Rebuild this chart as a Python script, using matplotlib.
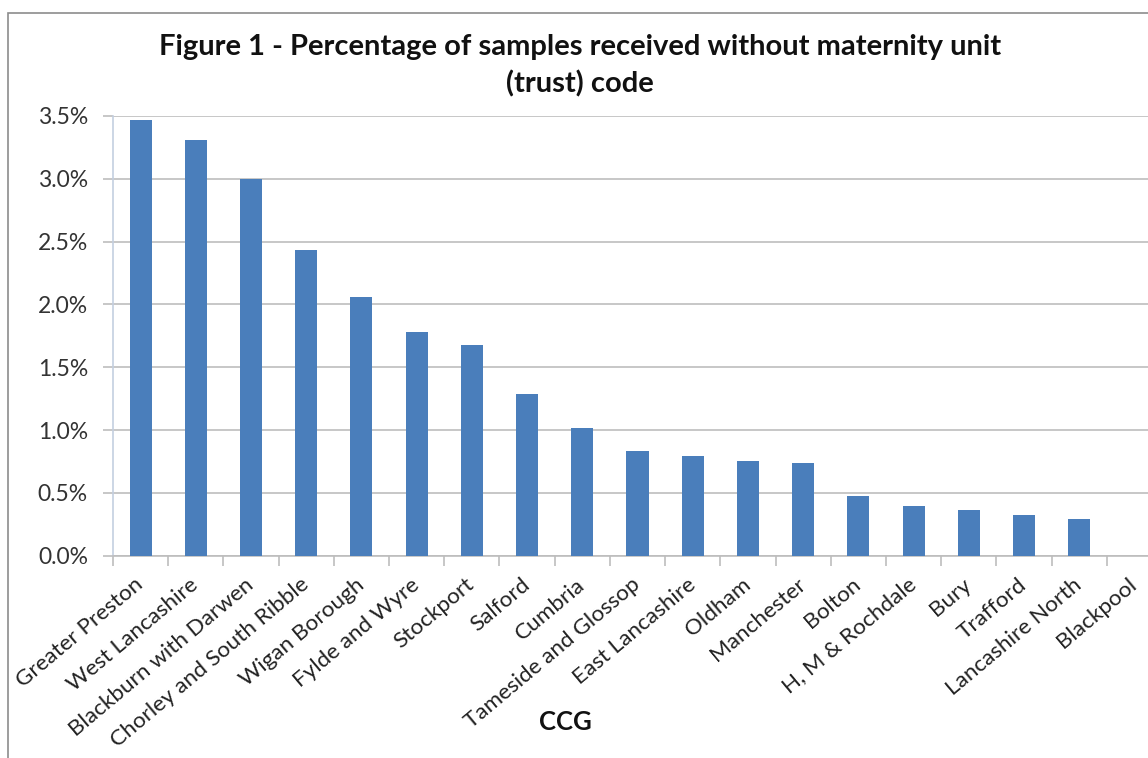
import numpy as np
import matplotlib.pyplot as plt
from matplotlib.patches import Rectangle
from matplotlib.ticker import FuncFormatter, FixedLocator, NullFormatter

ccgs = ['Greater Preston', 'West Lancashire', 'Blackburn with Darwen',
        'Chorley and South Ribble', 'Wigan Borough', 'Fylde and Wyre',
        'Stockport', 'Salford', 'Cumbria', 'Tameside and Glossop',
        'East Lancashire', 'Oldham', 'Manchester', 'Bolton',
        'H, M & Rochdale', 'Bury', 'Trafford', 'Lancashire North', 'Blackpool']
pct_no_code = [3.47, 3.31, 3.00, 2.43, 2.06, 1.78, 1.68, 1.29, 1.02, 0.835,
               0.795, 0.75, 0.735, 0.475, 0.395, 0.36, 0.325, 0.295, 0.0]

plt.rcParams['font.family'] = ['Lato', 'DejaVu Sans']

W, H = 1148, 758
fig = plt.figure(figsize=(W / 100, H / 100), dpi=100)

# chart border (runs off the right and bottom edges)
fig.patches.append(Rectangle((8 / W, -0.1), 1.2, (H - 13) / H + 0.1,
                             transform=fig.transFigure, fill=False,
                             edgecolor='#8c8c8c', linewidth=1.2))

left, right = 113, 1162
top, bottom = 116, 555.7
ax = fig.add_axes([left / W, (H - bottom) / H, (right - left) / W, (bottom - top) / H])

x = np.arange(len(ccgs))
ax.bar(x, np.array(pct_no_code) / 100, width=0.4, color='#4a7ebb', zorder=3)

ax.set_xlim(-0.5, len(ccgs) - 0.5)
ax.set_ylim(0, 0.035)
ax.set_yticks(np.arange(0, 0.0351, 0.005))
ax.yaxis.set_major_formatter(FuncFormatter(lambda v, p: f'{v * 100:.1f}%'))
ax.grid(axis='y', color='#bdbdbd', linewidth=1.2, zorder=0)

# category labels centred, tick marks between categories
ax.set_xticks(x)
ax.set_xticklabels(ccgs, rotation=40, ha='right', va='center', rotation_mode='anchor')
ax.xaxis.set_minor_locator(FixedLocator(np.arange(-0.5, len(ccgs), 1.0)))
ax.xaxis.set_minor_formatter(NullFormatter())
ax.tick_params(axis='x', which='major', length=0, pad=19, labelsize=16.2, colors='#222222')
ax.tick_params(axis='x', which='minor', length=7, color='#bdbdbd', width=1.2)
ax.tick_params(axis='y', length=7, color='#bdbdbd', width=1.2, labelsize=16.5,
               labelcolor='#333333', pad=11)

for s in ['top', 'right']:
    ax.spines[s].set_visible(False)
ax.spines['left'].set_color('#c4cfe0')
ax.spines['bottom'].set_color('#bdbdbd')
ax.spines['left'].set_linewidth(1.2)
ax.spines['bottom'].set_linewidth(1.2)

ax.set_xlabel('CCG', fontsize=18.5, fontweight='bold', color='#111111')
ax.xaxis.set_label_coords((565 - left) / (right - left), (bottom - 710) / (bottom - top))

fig.text(580 / W, 1 - 66 / H,
         'Figure 1 - Percentage of samples received without maternity unit\n(trust) code',
         ha='center', va='center', fontsize=21, fontweight='bold',
         color='#111111', linespacing=1.45)

fig.savefig('out.png', dpi=100, facecolor='white')
